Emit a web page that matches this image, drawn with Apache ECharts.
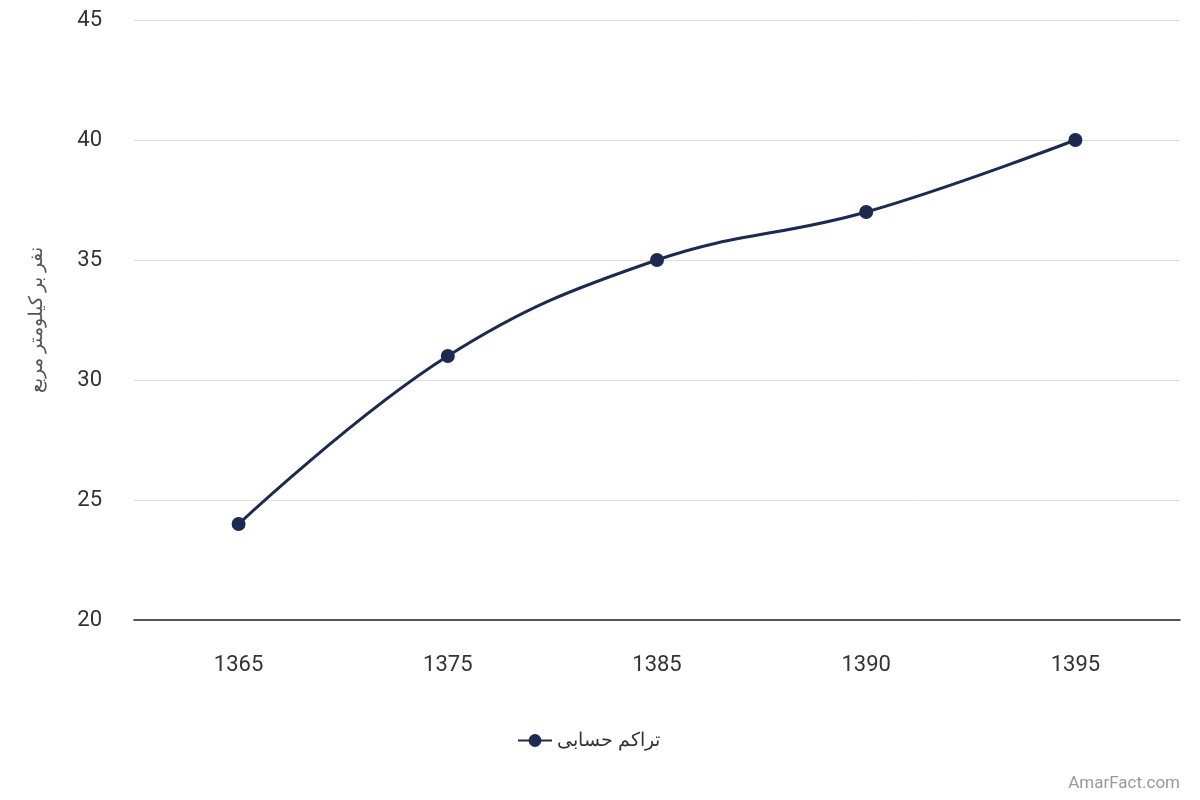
<!DOCTYPE html>
<html><head><meta charset="utf-8">
<script src="https://cdn.jsdelivr.net/npm/echarts@6/dist/echarts.min.js"></script>
<style>html,body{margin:0;padding:0;background:#fff}#c{width:1200px;height:800px}</style>
</head><body><div id="c"></div>
<script>
const categories = ['1365','1375','1385','1390','1395'];
const values = [24, 31, 35, 37, 40];
const seriesName = 'تراکم حسابی';
const yAxisName = 'نفر بر کیلومتر مربع';
const chart = echarts.init(document.getElementById('c'));
chart.setOption({
  animation:false,
  grid:{left:134,right:20,top:20,bottom:180},
  xAxis:{type:'category',data:categories,boundaryGap:true,
    axisLine:{lineStyle:{color:'#222',width:1.5}},axisTick:{show:false},
    axisLabel:{color:'#333',fontSize:22,fontFamily:'Roboto',margin:34}},
  yAxis:{type:'value',min:20,max:45,interval:5,
    name:yAxisName,nameLocation:'middle',nameGap:88,nameRotate:90,
    nameTextStyle:{color:'#555',fontSize:19,fontFamily:'Noto Sans'},
    axisLine:{show:false},axisTick:{show:false},
    splitLine:{lineStyle:{color:'#ddd'}},
    axisLabel:{color:'#333',fontSize:22,fontFamily:'Roboto',margin:32}},
  legend:{bottom:45,left:512,itemWidth:34,itemHeight:16,itemGap:8,
    textStyle:{fontSize:19,color:'#333',fontFamily:'Noto Sans'},data:[seriesName]},
  graphic:[{type:'text',right:20,bottom:8,style:{text:'AmarFact.com',fill:'#999',fontSize:17,fontFamily:'Roboto'}}],
  series:[{name:seriesName,type:'line',data:values,smooth:0.4,
    symbol:'circle',symbolSize:14,
    lineStyle:{color:'#1b2a4e',width:3},itemStyle:{color:'#1b2a4e'}}]
});
</script></body></html>
